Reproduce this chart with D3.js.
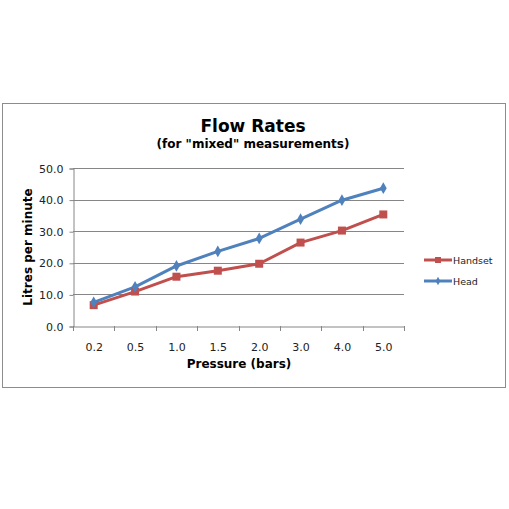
<!DOCTYPE html>
<html><head><meta charset="utf-8">
<script src="https://cdn.jsdelivr.net/npm/d3@7"></script>
<style>body{margin:0;background:#fff}svg{display:block}text{font-family:"DejaVu Sans",Verdana,sans-serif}</style>
</head><body>
<svg id="c" width="509" height="509"></svg>
<script>
const categories = ["0.2","0.5","1.0","1.5","2.0","3.0","4.0","5.0"];
const handset = [6.6,10.9,15.6,17.5,19.7,26.4,30.2,35.3];
const head = [7.5,12.4,19.0,23.6,27.7,33.8,39.8,43.6];
const yTicks = [0,10,20,30,40,50];
const seriesNames = ["Handset","Head"];
const colors = ["#C0504D","#4F81BD"];

const svg = d3.select("#c");
svg.append("rect").attr("x",2.5).attr("y",103.5).attr("width",503).attr("height",284)
  .attr("fill","#fff").attr("stroke","#8c8c8c").attr("stroke-width",1);

const L=73, R=404, T=168, B=326;
const x = d3.scaleBand().domain(categories).range([L,R]);
const y = d3.scaleLinear().domain([0,50]).range([B,T]);

// gridlines
svg.append("g").selectAll("line").data(yTicks.filter(d=>d>0)).join("line")
  .attr("x1",L).attr("x2",R).attr("y1",d=>Math.round(y(d))+0.5).attr("y2",d=>Math.round(y(d))+0.5)
  .attr("stroke","#868686").attr("stroke-width",1);

// y axis
const ya = svg.append("g").attr("transform",`translate(${L+0.5},0.5)`)
  .call(d3.axisLeft(y).tickValues(yTicks).tickFormat(d3.format(".1f")).tickSize(4).tickPadding(6));
ya.select(".domain").attr("stroke","#868686");
ya.selectAll(".tick line").attr("stroke","#868686");
ya.selectAll("text").attr("font-size",11).attr("fill","#222").attr("font-family","DejaVu Sans");

// x axis
const xa = svg.append("g").attr("transform",`translate(0.5,${B+0.5})`)
  .call(d3.axisBottom(x).tickSize(0).tickPadding(17));
xa.select(".domain").attr("stroke","#868686");
xa.selectAll("text").attr("font-size",11).attr("fill","#222").attr("font-family","DejaVu Sans");
svg.append("g").selectAll("line").data(d3.range(categories.length+1)).join("line")
  .attr("x1",i=>Math.round(L+i*x.step())+0.5).attr("x2",i=>Math.round(L+i*x.step())+0.5)
  .attr("y1",B).attr("y2",B+5).attr("stroke","#868686");

// lines
const series=[handset,head];
series.forEach((s,k)=>{
  const line=d3.line().x((d,i)=>x(categories[i])+x.bandwidth()/2).y(d=>y(d));
  svg.append("path").datum(s).attr("d",line).attr("fill","none")
    .attr("stroke",colors[k]).attr("stroke-width",3).attr("stroke-linejoin","round");
});
// markers
svg.append("g").selectAll("rect").data(handset).join("rect")
  .attr("x",(d,i)=>x(categories[i])+x.bandwidth()/2-4).attr("y",d=>y(d)-4)
  .attr("width",8).attr("height",8).attr("fill",colors[0]);
svg.append("g").selectAll("path").data(head).join("path")
  .attr("d",d3.symbol(d3.symbolDiamond,40))
  .attr("transform",(d,i)=>`translate(${x(categories[i])+x.bandwidth()/2},${y(d)})`)
  .attr("fill",colors[1]);

// titles
svg.append("text").attr("x",253).attr("y",132).attr("text-anchor","middle")
  .attr("font-size",17).attr("font-weight","bold").attr("fill","#000").text("Flow Rates");
svg.append("text").attr("x",253).attr("y",148).attr("text-anchor","middle")
  .attr("font-size",12).attr("font-weight","bold").attr("fill","#000").text('(for "mixed" measurements)');
svg.append("text").attr("x",239).attr("y",368).attr("text-anchor","middle")
  .attr("font-size",12).attr("font-weight","bold").attr("fill","#000").text("Pressure (bars)");
svg.append("text").attr("transform","translate(32,247) rotate(-90)").attr("text-anchor","middle")
  .attr("font-size",12).attr("font-weight","bold").attr("fill","#000").text("Litres per minute");

// legend
const leg = svg.append("g");
seriesNames.forEach((n,k)=>{
  const ly = 260 + k*21;
  leg.append("line").attr("x1",424).attr("x2",452).attr("y1",ly).attr("y2",ly)
    .attr("stroke",colors[k]).attr("stroke-width",3);
  if(k===0) leg.append("rect").attr("x",435).attr("y",ly-3).attr("width",6).attr("height",6).attr("fill",colors[k]);
  else leg.append("path").attr("d",d3.symbol(d3.symbolDiamond,20)).attr("transform",`translate(438,${ly})`).attr("fill",colors[k]);
  leg.append("text").attr("x",453).attr("y",ly+4).attr("font-size",9.5).attr("fill","#222").text(n);
});
</script>
</body></html>
